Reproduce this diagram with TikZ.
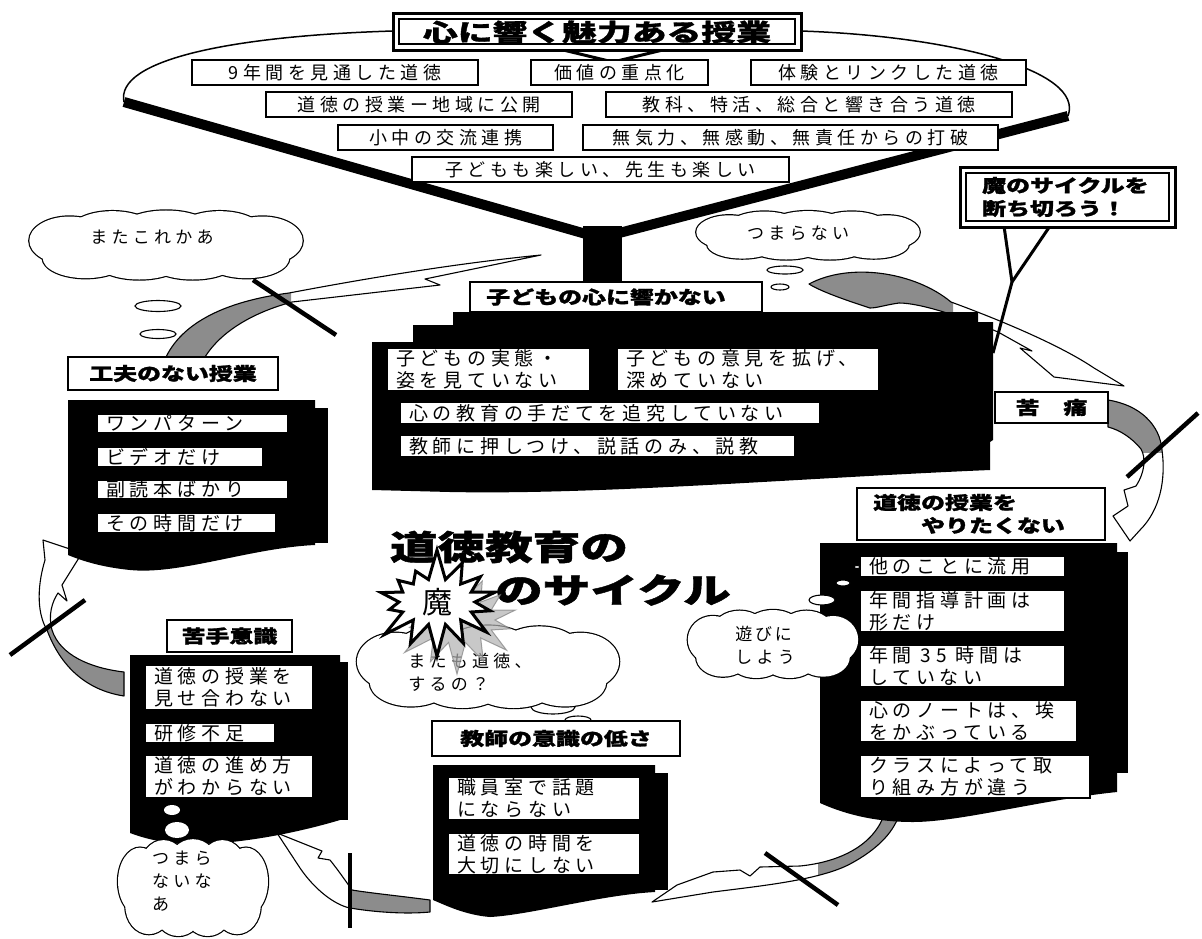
\documentclass[tikz,border=0pt]{standalone}
\usepackage{fontspec}
\usepackage{graphicx}
\usetikzlibrary{shapes.symbols}
\newfontfamily\jp{Noto Sans CJK JP}
\newfontfamily\jph{Noto Sans CJK JP}[BoldFeatures={FakeBold=1.2}]
\newfontfamily\jpsp{Noto Sans CJK JP}[LetterSpace=25]
\newcommand\wide[2][1.33]{\scalebox{#1}[1]{#2}}
\tikzset{
  itembox/.style={draw=black, fill=white, line width=1.3pt},
  itemtext/.style={font=\jpsp\fontsize{19}{22}\selectfont, inner sep=0pt, align=left, anchor=west},
  toptext/.style={font=\jpsp\fontsize{18}{22}\selectfont, inner sep=0pt},
  headbox/.style={draw=black, fill=white, line width=2.6pt},
  headtext/.style={font=\jph\bfseries\fontsize{18}{23}\selectfont, inner sep=0pt, align=left},
  puffline/.style={draw=black, line width=2.4pt},
  bubble/.style={draw=black, line width=1.1pt, fill=white},
  cutline/.style={line width=4.5pt},
  arrowshape/.style={draw=black, line width=1.1pt, line join=round},
  tailgray/.style={fill=black!45},
  cloudtext/.style={font=\jpsp\fontsize{17}{23}\selectfont, inner sep=0pt, align=left},
  bigtitle/.style={font=\jph\bfseries\fontsize{34}{40}\selectfont, inner sep=0pt},
  burst/.style={starburst, starburst points=14, starburst point height=32pt, random starburst=7, minimum width=140pt, minimum height=110pt, inner sep=0pt},
}
\newcommand\itm[6]{%
  \draw[itembox] (#2,#3) rectangle (#4,#5);
  \node[itemtext] (#1) at ({#2+9},{(#3+#5)/2}) {#6};}
\newcommand\topitm[6]{%
  \draw[itembox] (#2,#3) rectangle (#4,#5);
  \node[toptext] (#1) at ({(#2+#4)/2},{(#3+#5)/2}) {#6};}
\newcommand\headbx[6]{%
  \draw[headbox] (#2,#3) rectangle (#4,#5);
  \node[headtext] (#1) at ({(#2+#4)/2},{(#3+#5)/2}) {\wide{#6}};}
\newcommand\cyclearrow[2]{%
  \fill[white] #1;
  \begin{scope}\clip #2; \fill[tailgray] #1; \end{scope}
  \draw[arrowshape] #1;}
\newcommand\pufflist{-0.36/-0.08/0.15/0.36, -0.2/-0.22/0.16/0.3, 0/-0.25/0.17/0.28, 0.2/-0.22/0.16/0.3, 0.36/-0.08/0.15/0.36, -0.3/0.18/0.16/0.3, -0.1/0.24/0.16/0.26, 0.1/0.24/0.16/0.26, 0.3/0.18/0.16/0.3, 0/0/0.38/0.35}
\newcommand\puffcloud[5]{%
  \foreach \fx/\fy/\rx/\ry in \pufflist
    \draw[puffline] ({#2+\fx*#4},{#3+\fy*#5}) ellipse [x radius={\rx*#4}, y radius={\ry*#5}];
  \foreach \fx/\fy/\rx/\ry in \pufflist
    \fill[white] ({#2+\fx*#4},{#3+\fy*#5}) ellipse [x radius={\rx*#4}, y radius={\ry*#5}];
  \coordinate (#1) at (#2,#3);}
\begin{document}
\begin{tikzpicture}[x=1pt,y=-1pt]
\useasboundingbox (0,0) rectangle (1202,938);
\fill[white] (0,0) rectangle (1202,938);

% ---------- funnel ----------
\draw[line width=1.5pt] (393,31) .. controls (230,36) and (115,60) .. (124,102);
\draw[line width=1.5pt] (801,31) .. controls (950,36) and (1085,70) .. (1068,116);
\draw[line width=10pt] (124,102) -- (600,238);
\draw[line width=10pt] (1068,116) -- (600,238);
\fill (583,226) rectangle (622,284);
\draw[line width=3pt] (555,48) -- (613,62) -- (671,48);

\draw[line width=3pt, fill=white] (393,13) rectangle (801,50);
\draw[line width=1.2pt] (399,19) rectangle (795,44);
\node[font=\jph\bfseries\fontsize{24}{28}\selectfont, inner sep=0pt] (title) at (597,32) {\wide[1.45]{心に響く魅力ある授業}};

\topitm{r1a}{192}{60}{478}{85}{9年間を見通した道徳}
\topitm{r1b}{531}{60}{708}{85}{価値の重点化}
\topitm{r1c}{751}{60}{1026}{85}{体験とリンクした道徳}
\topitm{r2a}{266}{92}{572}{117}{道徳の授業ー地域に公開}
\topitm{r2b}{606}{92}{1012}{117}{教科、特活、総合と響き合う道徳}
\topitm{r3a}{338}{125}{553}{150}{小中の交流連携}
\topitm{r3b}{583}{125}{998}{150}{無気力、無感動、無責任からの打破}
\topitm{r4a}{412}{157}{789}{182}{子どもも楽しい、先生も楽しい}

% ---------- cycle arrows ----------
\cyclearrow{(166,357) .. controls (185,318) and (235,300) .. (289,293) .. controls (400,272) and (480,261) .. (541,255) -- (425,279) -- (440,285) -- (292,302) .. controls (255,312) and (222,330) .. (205,357) -- cycle}{(0,0) rectangle (291,938)}
\cyclearrow{(809,284) .. controls (850,262) and (915,272) .. (951,302) .. controls (1000,320) and (1060,345) .. (1094,368) -- (1124,386) -- (1054,377) -- (1020,348) -- (1032,351) -- (998,332) .. controls (960,316) and (920,303) .. (899,303) .. controls (885,305) and (877,308) .. (870,308) .. controls (845,300) and (820,291) .. (809,284) -- cycle}{(0,0) rectangle (953,938)}
\cyclearrow{(1108,400) .. controls (1140,405) and (1160,425) .. (1162,450) .. controls (1166,480) and (1160,510) .. (1140,530) -- (1130,541) -- (1113,516) -- (1128,506) -- (1124,490) -- (1136,486) .. controls (1145,472) and (1146,458) .. (1141,449) .. controls (1132,438) and (1120,430) .. (1108,427) -- cycle}{(0,0) rectangle (1202,452)}
\cyclearrow{(885,812) .. controls (875,845) and (840,862) .. (800,866) -- (760,867) -- (750,876) -- (740,870) -- (713,872) -- (677,885) -- (652,902) -- (713,892) .. controls (760,886) and (820,880) .. (850,864) .. controls (880,848) and (895,830) .. (900,812) -- cycle}{(818,0) rectangle (1202,938)}
\cyclearrow{(430,900) .. controls (400,896) and (370,893) .. (352,890) .. controls (345,880) and (338,870) .. (330,860) -- (318,858) -- (322,851) -- (277,833) -- (300,868) .. controls (315,890) and (335,905) .. (350,908) .. controls (380,913) and (410,914) .. (430,912) -- cycle}{(350,0) rectangle (1202,938)}
\cyclearrow{(124,672) .. controls (90,668) and (60,655) .. (52,630) .. controls (48,615) and (52,602) .. (58,593) -- (67,601) -- (62,585) -- (82,553) -- (43,540) -- (45,560) .. controls (36,590) and (38,615) .. (47,630) .. controls (60,665) and (85,690) .. (124,696) -- cycle}{(0,628) rectangle (1202,938)}

% ---------- thought clouds (top) ----------
\puffcloud{cl1}{166}{246}{268}{67}
\node[cloudtext] (cl1t) at (152,237) {またこれかあ};
\draw[bubble] (158,306) ellipse [x radius=23pt, y radius=5.5pt];
\draw[bubble] (158,334) ellipse [x radius=18pt, y radius=4.5pt];

\puffcloud{cl2}{808}{236}{219}{47}
\node[cloudtext] (cl2t) at (798,233) {つまらない};
\draw[bubble] (785,270) ellipse [x radius=18pt, y radius=4pt];
\draw[bubble] (780,287) ellipse [x radius=9pt, y radius=3pt];

% ---------- kodomo stack ----------
\fill (453,312) -- (978,312) -- (978,322) -- (993,322) -- (993,440) -- (990,442) -- (990,470)
  .. controls (800,478) and (600,495) .. (450,492) -- (372,490) -- (372,342) -- (413,342) -- (413,325) -- (453,325) -- cycle;
\draw[headbox] (470,282) rectangle (762,312);
\node[headtext] (kodomo) at (606,297) {\wide{子どもの心に響かない}};
\itm{k1}{387}{348}{590}{391}{子どもの実態・\\姿を見ていない}
\itm{k2}{617}{348}{879}{391}{子どもの意見を拡げ、\\深めていない}
\itm{k3}{400}{402}{820}{424}{心の教育の手だてを追究していない}
\itm{k4}{400}{435}{795}{457}{教師に押しつけ、説話のみ、説教}

\headbx{kutsuu}{995}{392}{1108}{423}{苦　痛}

% callout
\fill[white] (1004,226) -- (1012,282) -- (1050,226) -- cycle;
\draw[line width=3pt] (1004,226) -- (1012,282) -- (1050,226);
\draw[line width=3pt] (1012,282) -- (993,353);
\draw[line width=3pt, fill=white] (960,167) rectangle (1175,227);
\draw[line width=1.2pt] (966,173) rectangle (1169,221);
\node[headtext, anchor=west] (callout) at (982,197) {\wide{魔のサイクルを}\\\wide{断ち切ろう！}};

% ---------- kufuu stack ----------
\headbx{kufuu}{68}{357}{278}{390}{工夫のない授業}
\fill (300,408) rectangle (328,543);
\fill (68,400) -- (315,400) -- (315,545) .. controls (250,548) and (180,575) .. (130,570) .. controls (100,567) and (80,560) .. (68,555) -- cycle;
\itm{u1}{97}{414}{288}{433}{ワンパターン}
\itm{u2}{97}{447}{263}{467}{ビデオだけ}
\itm{u3}{97}{480}{288}{499}{副読本ばかり}
\itm{u4}{97}{513}{276}{533}{その時間だけ}

% ---------- nigate stack ----------
\headbx{nigate}{167}{620}{292}{652}{苦手意識}
\fill (330,662) rectangle (348,820);
\fill (130,655) -- (340,655) -- (340,820) .. controls (290,835) and (220,848) .. (170,843) .. controls (150,840) and (138,836) .. (130,833) -- cycle;
\itm{n1}{145}{665}{313}{710}{道徳の授業を\\見せ合わない}
\itm{n2}{145}{723}{275}{743}{研修不足}
\itm{n3}{145}{755}{313}{798}{道徳の進め方\\がわからない}
\fill[white] (172,810) ellipse [x radius=8pt, y radius=5pt];
\fill[white] (177,830) ellipse [x radius=12pt, y radius=8pt];
\puffcloud{cl5}{193}{889}{147}{94}
\node[cloudtext, anchor=north west] (cl5t) at (152,851) {つまら\\ないな\\あ};

% ---------- kyoushi stack ----------
\draw[bubble] (553,707) ellipse [x radius=22pt, y radius=7pt];
\draw[bubble] (578,720) ellipse [x radius=13pt, y radius=4pt];
\headbx{kyoushi}{432}{721}{680}{756}{教師の意識の低さ}
\fill (645,773) rectangle (668,890);
\fill (433,765) -- (655,765) -- (655,892) .. controls (600,895) and (530,915) .. (490,917) .. controls (465,915) and (445,905) .. (433,900) -- cycle;
\itm{t1}{448}{777}{640}{820}{職員室で話題\\にならない}
\itm{t2}{448}{833}{640}{875}{道徳の時間を\\大切にしない}

% ---------- yaritakunai stack ----------
\draw[headbox] (857,488) rectangle (1105,540);
\node[headtext, anchor=west] (yari) at (873,514) {\wide{道徳の授業を}\\\hspace*{48pt}\wide{やりたくない}};
\fill (1105,552) rectangle (1128,773);
\fill (820,543) -- (1117,543) -- (1117,792) .. controls (1040,800) and (960,822) .. (913,822) .. controls (870,822) and (840,812) .. (820,803) -- cycle;
\itm{y1}{860}{556}{1065}{577}{他のことに流用}
\itm{y2}{860}{590}{1065}{632}{年間指導計画は\\形だけ}
\itm{y3}{860}{645}{1065}{687}{年間 35 時間は\\していない}
\itm{y4}{860}{700}{1077}{742}{心のノートは、埃\\をかぶっている}
\itm{y5}{860}{755}{1090}{798}{クラスによって取\\り組み方が違う}
\draw[bubble] (857,567) ellipse [x radius=3pt, y radius=1.5pt];
\draw[bubble] (843,583) ellipse [x radius=7pt, y radius=3pt];
\draw[bubble] (822,600) ellipse [x radius=13pt, y radius=5pt];
\puffcloud{cl4}{773}{645}{167}{66}
\node[cloudtext] (cl4t) at (765,645) {遊\,び\,に\\しよう};

% ---------- centre title and burst ----------
\node[bigtitle] (ct1) at (509,547) {\wide[1.4]{道徳教育の}};
\node[bigtitle] (ct2) at (613,590) {\wide[1.4]{のサイクル}};
\puffcloud{cl3}{488}{668}{257}{80}
\node[cloudtext] (cl3t) at (470,672) {またも道徳、\\するの？};
\node[burst, fill=black!30, draw=black!50, line width=1pt, opacity=0.7] (mashadow) at (457,620) {};
\node[burst, fill=white, draw=black, line width=3pt, font=\jp\fontsize{30}{32}\selectfont] (ma) at (437,602) {魔};

% ---------- cut lines ----------
\draw[cutline] (253,280) -- (336,335);
\draw[cutline] (1127,477) -- (1198,413);
\draw[cutline] (765,853) -- (838,905);
\draw[cutline] (350,853) -- (350,928);
\draw[cutline] (10,655) -- (85,600);
\end{tikzpicture}
\end{document}
